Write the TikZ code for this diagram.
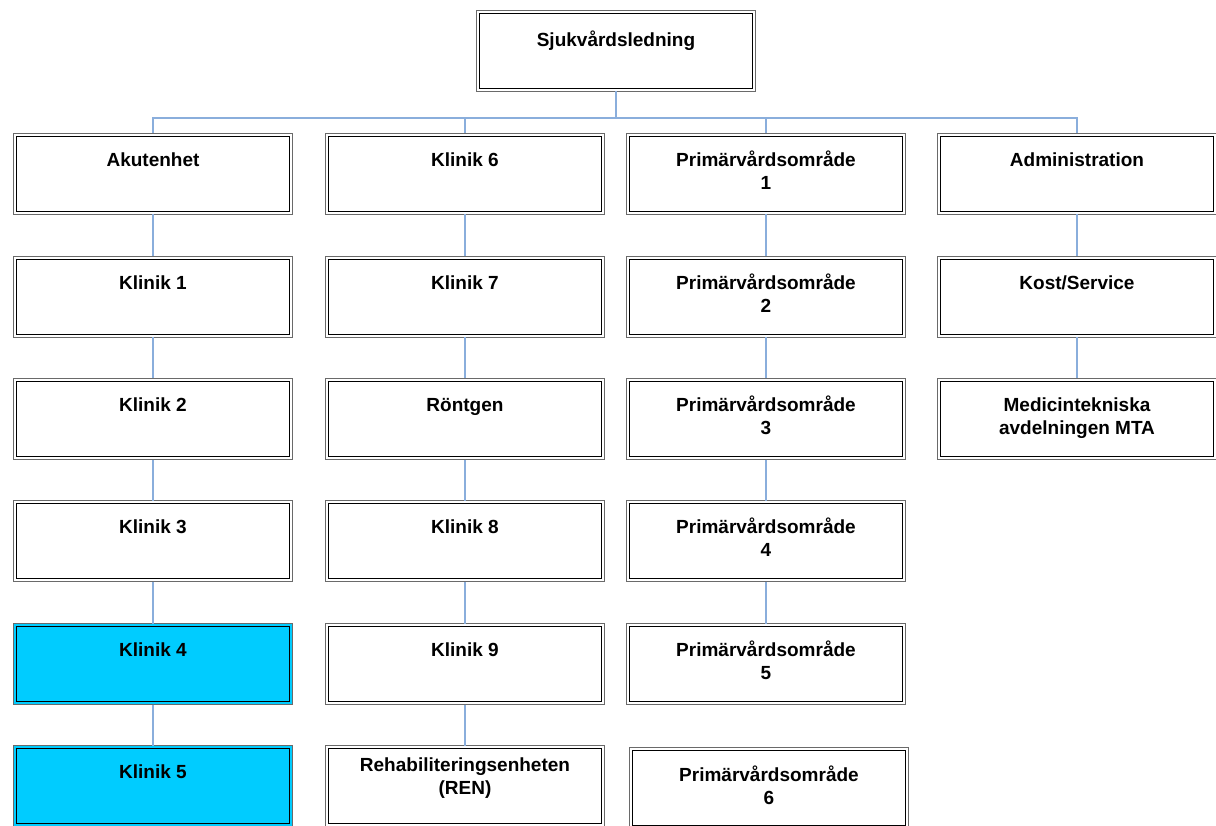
\documentclass[tikz,border=0pt]{standalone}
\usepackage{fontspec}
\setmainfont{Liberation Sans}
\definecolor{frame}{HTML}{6A6A6A}
\definecolor{kcyan}{HTML}{00CCFF}
\definecolor{linkblue}{HTML}{8AAEDC}
% text set at a fixed distance below the top edge of a box
\newcommand\orgtext[2][32]{\parbox[c][79pt][t]{272pt}{\centering\rule{0pt}{#1pt}#2}}
\begin{document}
\begin{tikzpicture}[x=1pt,y=-1pt,
  orgbox/.style={draw=frame, line width=1.6pt, fill=white,
    minimum width=279pt, minimum height=81pt, inner sep=0pt, outer sep=0pt,
    font=\bfseries\fontsize{19}{23}\selectfont,
    path picture={\draw[black,line width=1.3pt]
      ([shift={(3.2pt,-3.2pt)}]path picture bounding box.north west) rectangle
      ([shift={(-3.2pt,3.2pt)}]path picture bounding box.south east);}},
  hl/.style={fill=kcyan},
  link/.style={draw=linkblue, line width=1.3pt}]
\useasboundingbox[fill=white] (0,0) rectangle (1216,826);

% head of the organisation
\node[orgbox] (top) at (616,51) {\orgtext[35]{Sjukvårdsledning}};

% column 1
\node[orgbox] (a0) at (153,174) {\orgtext{Akutenhet}};
\node[orgbox] (a1) at (153,297) {\orgtext{Klinik 1}};
\node[orgbox] (a2) at (153,419) {\orgtext{Klinik 2}};
\node[orgbox] (a3) at (153,541) {\orgtext{Klinik 3}};
\node[orgbox,hl] (a4) at (153,664) {\orgtext{Klinik 4}};
\node[orgbox,hl] (a5) at (153,786) {\orgtext{Klinik 5}};

% column 2
\node[orgbox] (b0) at (465,174) {\orgtext{Klinik 6}};
\node[orgbox] (b1) at (465,297) {\orgtext{Klinik 7}};
\node[orgbox] (b2) at (465,419) {\orgtext{Röntgen}};
\node[orgbox] (b3) at (465,541) {\orgtext{Klinik 8}};
\node[orgbox] (b4) at (465,664) {\orgtext{Klinik 9}};
\node[orgbox] (b5) at (465,786) {\orgtext[25]{Rehabiliteringsenheten\\(REN)}};

% column 3
\node[orgbox] (c0) at (766,174) {\orgtext{Primärvårdsområde\\1}};
\node[orgbox] (c1) at (766,297) {\orgtext{Primärvårdsområde\\2}};
\node[orgbox] (c2) at (766,419) {\orgtext{Primärvårdsområde\\3}};
\node[orgbox] (c3) at (766,541) {\orgtext{Primärvårdsområde\\4}};
\node[orgbox] (c4) at (766,664) {\orgtext{Primärvårdsområde\\5}};
\node[orgbox] (c5) at (769,788) {\orgtext[33]{Primärvårdsområde\\6}};

% column 4
\node[orgbox] (d0) at (1077,174) {\orgtext{Administration}};
\node[orgbox] (d1) at (1077,297) {\orgtext{Kost/Service}};
\node[orgbox] (d2) at (1077,419) {\orgtext{Medicintekniska\\avdelningen MTA}};

% connectors
\coordinate (bus) at (0,118);
\draw[link] (top.south) -- (top.south |- bus) -| (a0.north);
\draw[link] (top.south |- bus) -| (b0.north);
\draw[link] (top.south |- bus) -| (c0.north);
\draw[link] (top.south |- bus) -| (d0.north);

\foreach \col/\last in {a/5,b/5,c/4,d/2}{
  \foreach \i [evaluate=\i as \j using int(\i+1)] in {0,...,\numexpr\last-1\relax}{
    \draw[link] (\col\i.south) -- (\col\j.north);
  }
}
\end{tikzpicture}
\end{document}
